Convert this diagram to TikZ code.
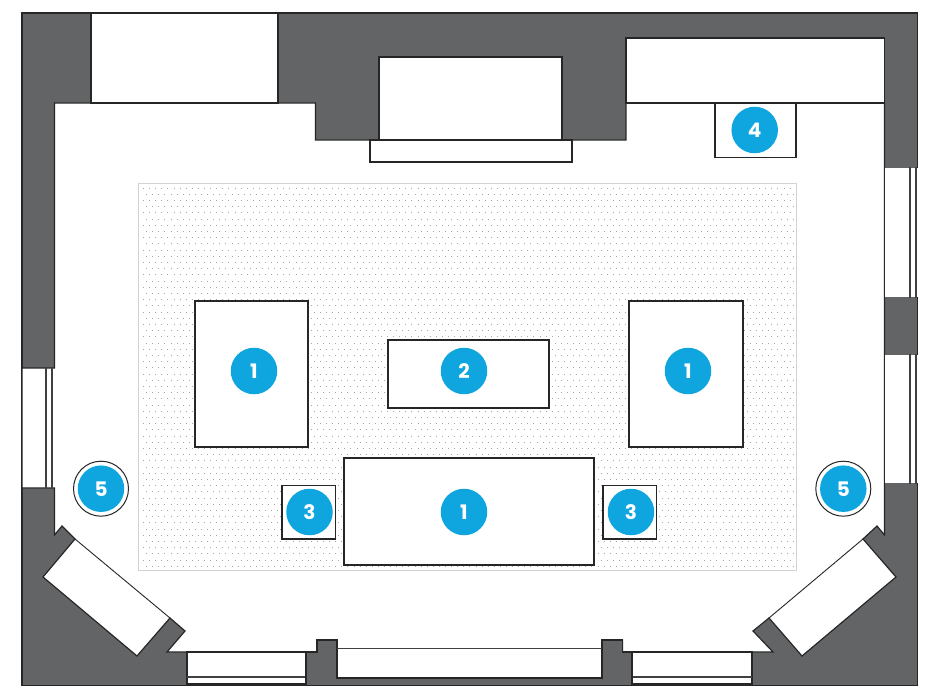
\documentclass[tikz,border=0pt]{standalone}
\usepackage{fontspec}
\setmainfont{Poppins}
\usepackage{tikz}
\definecolor{wallGray}{HTML}{636466}
\definecolor{badgeBlue}{HTML}{0FA6E0}
\definecolor{rugEdge}{HTML}{D2D3D4}
\tikzset{every picture/.style={semithick}}
\tikzset{wall/.style={draw=black!85, line width=1.3pt, fill=wallGray, line join=miter}}
\tikzset{furniture/.style={draw=black!85, line width=1.2pt, fill=white}}
\tikzset{glass/.style={draw=black!75, line width=1.2pt}}
\tikzset{badge/.style={circle, fill=badgeBlue, text=white, minimum size=46.5pt, inner sep=0pt, font=\fontsize{20}{20}\selectfont\bfseries}}
\begin{document}
\begin{tikzpicture}[x=1pt, y=-1pt]
        \useasboundingbox (0,0) rectangle (927,695);
        % walls and room
        \draw[wall] (22,13) rectangle (917.5,685.5);
        \draw[furniture] (54.5,103) -- (315.5,103) -- (315.5,140) -- (626,140) -- (626,103) -- (884.5,103)
            -- (884.5,535) -- (877,526) -- (863,539) -- (896,577) -- (802,656) -- (769,618) -- (753,631) -- (773,652)
            -- (622.5,652) -- (622.5,640) -- (602,640) -- (602,678) -- (337,678) -- (337,640) -- (317,640) -- (317,652)
            -- (167,652) -- (185,631) -- (170,618) -- (137,656) -- (43,577) -- (75,539) -- (62,526) -- (54.5,535)
            -- (54.5,488) -- (22,488) -- (22,368) -- (54.5,368) -- cycle;
        \draw[furniture] (91,13) rectangle (278,103);
        \draw[furniture] (626,38) rectangle (884.5,103);
        \draw[furniture] (379,57) rectangle (562,140);
        \draw[furniture] (370,140) rectangle (572,162);
        % windows
        \draw[glass] (46,368) -- (46,488);
        \draw[glass] (52,368) -- (52,488);
        \fill[white] (885.2,167.7) rectangle (919,297.3);
        \fill[white] (885.2,354.7) rectangle (919,483.3);
        \draw[glass] (910,167) -- (910,298) (916,167) -- (916,298);
        \draw[glass] (910,354) -- (910,484) (916,354) -- (916,484);
        \draw[furniture] (187,652) rectangle (306,684);
        \draw[glass] (187,677) -- (306,677);
        \draw[furniture] (632,652) rectangle (752,684);
        \draw[glass] (632,677) -- (752,677);
        \draw[wall] (306,652) -- (317,652) -- (317,640) -- (337,640) -- (337,678) -- (602,678) -- (602,640) -- (622.5,640) -- (622.5,652) -- (632,652) -- (632,685.5) -- (306,685.5) -- cycle;
        \draw[black!75, line width=0.9pt] (337,648) -- (602,648);
        \draw[black!85, line width=0.9pt] (75,539) -- (170,618);
        \draw[black!85, line width=0.9pt] (863,539) -- (769,618);
        % rug
        \draw[draw=rugEdge, line width=1.5pt, fill=white] (138.5,183.5) rectangle (796.5,570.5);
        \foreach \row in {0,...,61} {
            \pgfmathsetmacro{\rowshift}{mod(\row,2)*3}
            \draw[gray!70, line width=0.8pt, dash pattern=on 0.9pt off 5.2pt, dash phase=\rowshift pt] (143,188+6.2*\row) -- (793,188+6.2*\row);
        }
        % furniture
        \draw[furniture] (195,301) rectangle (308,447);
        \draw[furniture] (629,301) rectangle (743,447);
        \draw[furniture] (388,340) rectangle (549,408);
        \draw[furniture] (344,458) rectangle (594,565);
        \draw[furniture] (282,485.5) rectangle (335.5,539);
        \draw[furniture] (603,485.5) rectangle (656.5,539);
        \draw[furniture] (715,103) rectangle (796,157.5);
        % planters
        \draw[furniture, line width=1pt] (101,488.7) circle (27.5);
        \draw[furniture, line width=1pt] (843.3,488.7) circle (27.5);
        % badges
        \node[badge] (chairLeft) at (254,371) {1};
        \node[badge] (chairRight) at (688,371) {1};
        \node[badge] (sofa) at (464,512) {1};
        \node[badge] (table) at (464,371) {2};
        \node[badge] (sideLeft) at (309.5,512) {3};
        \node[badge] (sideRight) at (631,512) {3};
        \node[badge] (cabinet) at (754.7,130) {4};
        \node[badge] (plantLeft) at (101,488.7) {5};
        \node[badge] (plantRight) at (843.3,488.7) {5};
    \end{tikzpicture}
\end{document}
